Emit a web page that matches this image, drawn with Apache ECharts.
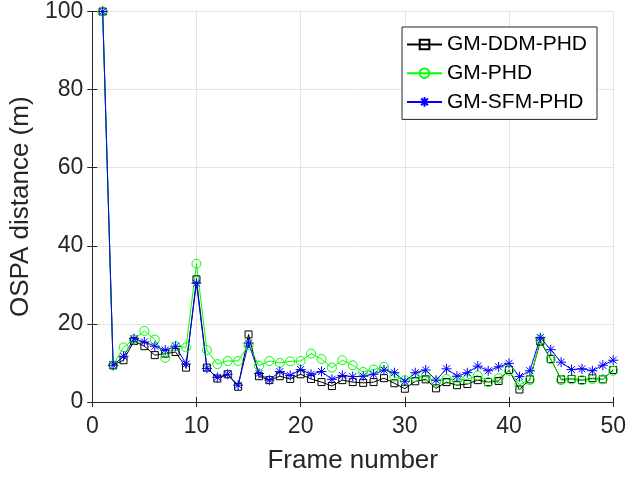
<!DOCTYPE html>
<html>
<head>
<meta charset="utf-8">
<script src="https://cdn.jsdelivr.net/npm/echarts@6/dist/echarts.min.js"></script>
<style>
  html, body { margin: 0; padding: 0; background: #fff; }
  #chart { width: 629px; height: 479px; }
</style>
</head>
<body>
<div id="chart"></div>
<script>
// OSPA distance per frame for three PHD filter variants
const frames = Array.from({ length: 50 }, (_, i) => i + 1);

const gmDdmPhd = [100, 9.4, 10.7, 15.6, 14.3, 12.0, 12.4, 12.8, 8.8, 31.4,
  8.8, 6.0, 7.1, 3.9, 17.3, 6.6, 5.6, 6.6, 5.9, 7.1,
  5.9, 5.1, 4.1, 5.6, 5.1, 4.9, 5.1, 6.1, 4.8, 3.4,
  5.3, 5.8, 3.5, 5.1, 4.3, 4.6, 5.6, 5.1, 5.4, 8.2,
  3.2, 5.8, 15.5, 11.0, 5.8, 5.9, 5.6, 6.1, 5.8, 8.2];

const gmPhd = [100, 9.4, 14.0, 16.0, 18.2, 16.0, 11.3, 14.3, 14.0, 35.4,
  13.3, 9.7, 10.5, 10.5, 14.6, 9.3, 10.5, 10.0, 10.4, 10.5,
  12.4, 11.0, 8.8, 10.7, 9.4, 7.7, 8.3, 9.0, 6.5, 5.6,
  6.3, 6.6, 5.2, 5.9, 5.6, 5.8, 6.8, 5.1, 6.1, 8.0,
  4.4, 5.6, 16.0, 11.0, 5.6, 5.8, 5.6, 5.9, 5.8, 8.0];

const gmSfmPhd = [100, 9.4, 11.7, 16.2, 15.4, 14.3, 13.3, 14.3, 9.7, 30.4,
  8.6, 6.3, 7.1, 4.3, 15.1, 7.3, 5.6, 7.8, 6.8, 8.3,
  7.1, 7.8, 5.8, 6.8, 6.5, 6.6, 7.1, 8.2, 7.5, 5.3,
  7.5, 8.2, 5.6, 8.5, 6.6, 7.5, 9.2, 8.0, 9.0, 9.9,
  6.5, 8.0, 16.5, 13.4, 10.2, 8.3, 8.5, 8.0, 9.4, 10.7];

const seriesNames = ['GM-DDM-PHD', 'GM-PHD', 'GM-SFM-PHD'];
const xTicks = [0, 10, 20, 30, 40, 50];
const yTicks = [0, 20, 40, 60, 80, 100];

// eight-armed asterisk marker drawn as strokes
const asterisk = 'path://M5,0L5,10M0,5L10,5M1.5,1.5L8.5,8.5M1.5,8.5L8.5,1.5';

const pair = arr => frames.map((f, i) => [f, arr[i]]);

const font = 'Liberation Sans, Arial, sans-serif';
const txt = '#262626';

const chart = echarts.init(document.getElementById('chart'), null, { renderer: 'canvas' });

function mkSeries(name, data, color, symbol, size) {
  return {
    name: name,
    type: 'line',
    data: pair(data),
    symbol: symbol,
    symbolSize: size,
    showAllSymbol: true,
    animation: false,
    lineStyle: { color: color, width: 1 },
    itemStyle: { color: 'rgba(0,0,0,0)', borderColor: color, borderWidth: 1 },
    emphasis: { disabled: true }
  };
}

const axisCommon = {
  axisLine: { show: true, onZero: false, lineStyle: { color: '#262626', width: 1 } },
  axisTick: { show: true, inside: true, length: 5, lineStyle: { color: '#262626' } },
  splitLine: { show: true, lineStyle: { color: '#e3e3e3', width: 1 } },
  axisLabel: { color: txt, fontFamily: font, fontSize: 23 },
  nameTextStyle: { color: txt, fontFamily: font, fontSize: 26 }
};

chart.setOption({
  backgroundColor: '#fff',
  animation: false,
  grid: { left: 92, right: 15, top: 10, bottom: 77, containLabel: false },
  xAxis: [
    Object.assign({}, axisCommon, {
      type: 'value', min: xTicks[0], max: xTicks[xTicks.length - 1], interval: 10,
      name: 'Frame number', nameLocation: 'middle', nameGap: 46,
      axisLabel: Object.assign({}, axisCommon.axisLabel, { margin: 13 })
    }),
    {
      type: 'value', min: 0, max: 50, interval: 10, position: 'top',
      axisLine: { show: true, lineStyle: { color: '#262626' } },
      axisTick: { show: true, inside: true, length: 5, lineStyle: { color: '#262626' } },
      axisLabel: { show: false }, splitLine: { show: false }
    }
  ],
  yAxis: [
    Object.assign({}, axisCommon, {
      type: 'value', min: yTicks[0], max: yTicks[yTicks.length - 1], interval: 20,
      name: 'OSPA distance (m)', nameLocation: 'middle', nameGap: 50,
      axisLabel: Object.assign({}, axisCommon.axisLabel, { margin: 9 })
    }),
    {
      type: 'value', min: 0, max: 100, interval: 20, position: 'right',
      axisLine: { show: true, lineStyle: { color: '#262626' } },
      axisTick: { show: true, inside: true, length: 5, lineStyle: { color: '#262626' } },
      axisLabel: { show: false }, splitLine: { show: false }
    }
  ],
  legend: {
    right: 32, top: 27,
    orient: 'vertical',
    itemWidth: 35, itemHeight: 12, itemGap: 7.7,
    padding: [7, 10, 7, 4],
    backgroundColor: '#fff',
    borderColor: '#262626', borderWidth: 1, borderRadius: 0,
    textStyle: { color: '#000', fontFamily: font, fontSize: 21, lineHeight: 21 },
    data: seriesNames
  },
  series: [
    mkSeries(seriesNames[0], gmDdmPhd, '#000000', 'rect', 7),
    mkSeries(seriesNames[1], gmPhd, '#00ff00', 'circle', 9),
    mkSeries(seriesNames[2], gmSfmPhd, '#0000ff', asterisk, 10)
  ]
});
</script>
</body>
</html>
